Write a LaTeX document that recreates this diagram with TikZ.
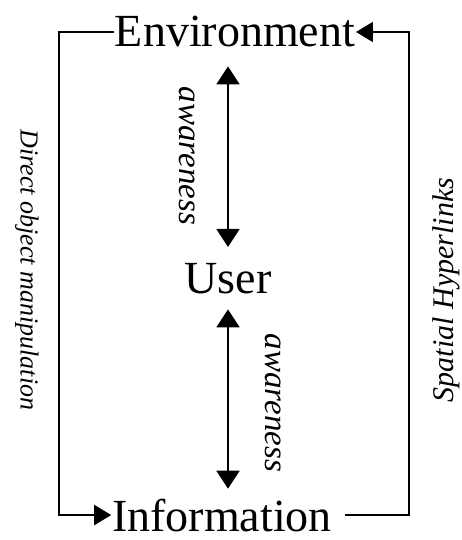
\documentclass[tikz,border=0pt]{standalone}
\usepackage{fontspec}
\setmainfont{Liberation Serif}
\usetikzlibrary{arrows.meta}
\usetikzlibrary{calc}

\begin{document}
\begin{tikzpicture}[x=1pt, y=1pt, line width=1.8pt,
	big/.style={inner sep=0pt, font=\fontsize{46}{50}\selectfont},
	lab/.style={inner sep=0pt, font=\itshape\fontsize{#1}{#1}\selectfont},
	tip/.style={-{Triangle[width=20pt,length=17pt]}},
	both/.style={{Triangle[width=23pt,length=18pt]}-{Triangle[width=23pt,length=18pt]}}]
	\useasboundingbox (0,0) rectangle (461,-540);
	\node[big, anchor=base] (env) at (235,-47) {Environment};
	\node[big, anchor=base] (user) at (228,-293) {User};
	\node[big, anchor=base] (info) at (222,-531) {Information};
	\coordinate (lft) at (59,0);
	\coordinate (rgt) at (409,0);
	% outer loop
	\draw[tip] (env.west) -- (env.west -| lft) -- (info.west -| lft) -- (info.west);
	\draw[tip, shorten <=12pt] (info.east) -- (info.east -| rgt) -- (env.east -| rgt) -- (env.east);
	% awareness arrows
	\draw[both, shorten <=18pt, shorten >=15pt] (env.south -| user) -- (user.north);
	\draw[both, shorten <=15pt, shorten >=9pt] (user.south) -- (info.north -| user);
	\node[lab=26, rotate=-90] (manip) at (27,-270) {Direct object manipulation};
	\node[lab=30, rotate=90] (hyper) at (446,-290) {Spatial Hyperlinks};
	\node[lab=33, rotate=-90] (aw1) at (187,-156) {awareness};
	\node[lab=33, rotate=-90] (aw2) at (273,-403) {awareness};
\end{tikzpicture}
\end{document}
